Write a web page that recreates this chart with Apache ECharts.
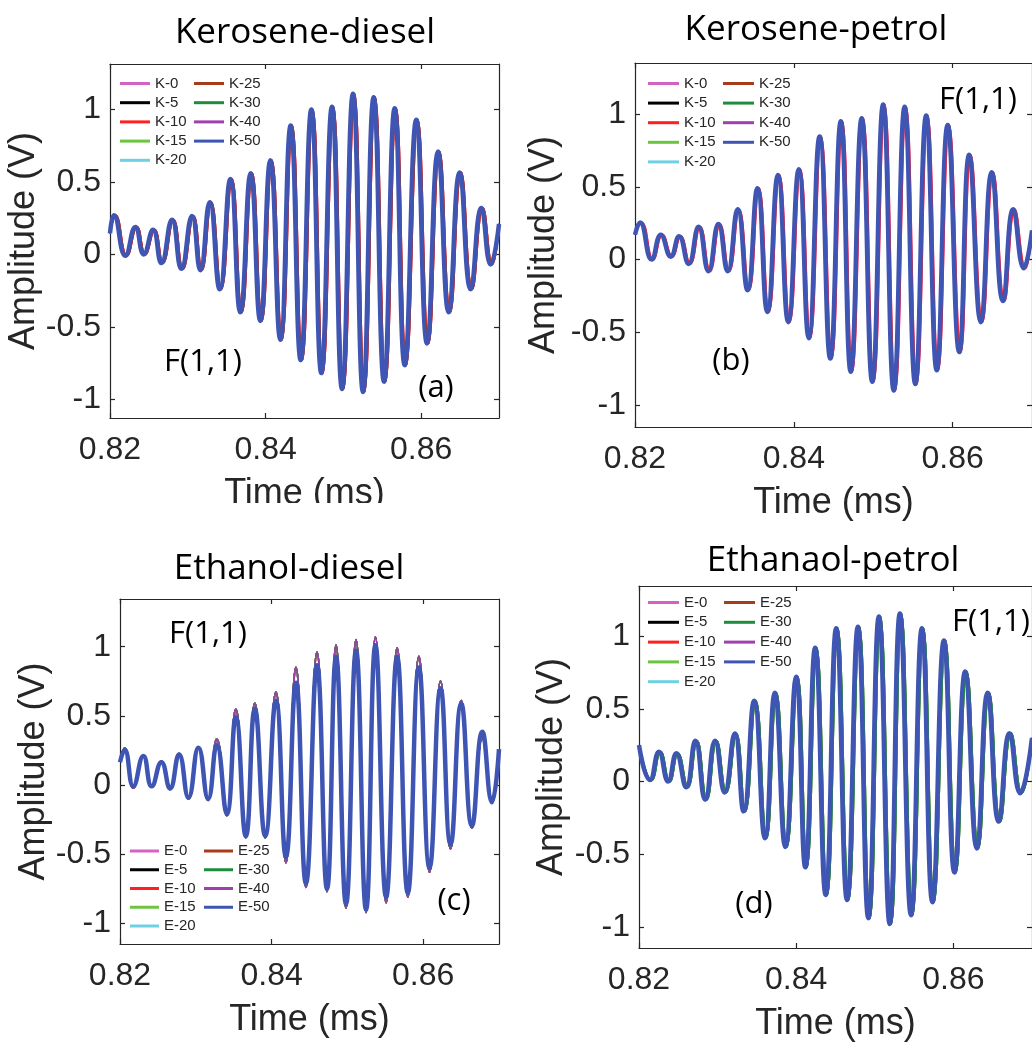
<!DOCTYPE html>
<html><head><meta charset="utf-8">
<script src="https://cdn.jsdelivr.net/npm/echarts@6/dist/echarts.min.js"></script>
<style>html,body{margin:0;padding:0;background:#fff}#c{width:1032px;height:1043px}</style>
</head><body><div id="c"></div>
<script>
// ---- tick labels ----
const xTicks = [0.82, 0.84, 0.86];
const yTicks = [-1, -0.5, 0, 0.5, 1];

// ---- series names / colours ----
const namesK = ['K-0','K-5','K-10','K-15','K-20','K-25','K-30','K-40','K-50'];
const namesE = ['E-0','E-5','E-10','E-15','E-20','E-25','E-30','E-40','E-50'];
const colors = ['#d462c4','#000000','#ff1f1f','#6cc43f','#6fd0e3','#a63c1c','#1d8c3c','#a03fae','#3f55b3'];

// ---- panel (a) Kerosene-diesel: extrema ----
const tA_a = [0.82, 0.82051, 0.82197, 0.82326, 0.82433, 0.82553, 0.82660, 0.82797, 0.82917, 0.83054, 0.83161, 0.83281, 0.83410, 0.83547, 0.83675, 0.83808, 0.83932, 0.84061, 0.84189, 0.84322, 0.84451, 0.84588, 0.84716, 0.84853, 0.84982, 0.85123, 0.85252, 0.85389, 0.85522, 0.85659, 0.85788, 0.85937, 0.86075, 0.86216, 0.86353, 0.86494, 0.86636, 0.86773, 0.86893, 0.87];
const tLag_a = [0.82, 0.82071, 0.82217, 0.82346, 0.82453, 0.82573, 0.82680, 0.82817, 0.82937, 0.83074, 0.83181, 0.83301, 0.83430, 0.83567, 0.83695, 0.83828, 0.83952, 0.84081, 0.84209, 0.84342, 0.84471, 0.84608, 0.84736, 0.84873, 0.85002, 0.85143, 0.85272, 0.85409, 0.85542, 0.85679, 0.85808, 0.85957, 0.86095, 0.86236, 0.86373, 0.86514, 0.86656, 0.86793, 0.86913, 0.87];
const vA_a = [0.145, 0.27, -0.01, 0.19, 0.0, 0.17, -0.06, 0.24, -0.10, 0.265, -0.11, 0.36, -0.24, 0.52, -0.40, 0.56, -0.46, 0.65, -0.59, 0.89, -0.73, 1.00, -0.82, 1.02, -0.93, 1.11, -0.95, 1.085, -0.88, 1.01, -0.765, 0.93, -0.615, 0.71, -0.40, 0.565, -0.24, 0.32, -0.07, 0.21];

// ---- panel (b) Kerosene-petrol ----
const tA_b = [0.82, 0.82063, 0.82209, 0.82325, 0.82450, 0.82555, 0.82675, 0.82800, 0.82925, 0.83050, 0.83167, 0.83292, 0.83417, 0.83542, 0.83667, 0.83800, 0.83930, 0.84063, 0.84188, 0.84325, 0.84459, 0.84592, 0.84717, 0.84855, 0.84988, 0.85125, 0.85259, 0.85396, 0.85530, 0.85667, 0.85800, 0.85938, 0.86084, 0.86209, 0.86355, 0.86492, 0.86634, 0.86763, 0.86896, 0.87];
const tLag_b = [0.82, 0.82083, 0.82229, 0.82345, 0.82470, 0.82575, 0.82695, 0.82820, 0.82945, 0.83070, 0.83187, 0.83312, 0.83437, 0.83562, 0.83687, 0.83820, 0.83950, 0.84083, 0.84208, 0.84345, 0.84479, 0.84612, 0.84737, 0.84875, 0.85008, 0.85145, 0.85279, 0.85416, 0.85550, 0.85687, 0.85820, 0.85958, 0.86104, 0.86229, 0.86375, 0.86512, 0.86654, 0.86783, 0.86916, 0.87];
const vA_b = [0.17, 0.255, 0.0, 0.17, 0.02, 0.16, -0.03, 0.225, -0.08, 0.245, -0.08, 0.345, -0.21, 0.49, -0.36, 0.58, -0.43, 0.62, -0.54, 0.845, -0.68, 0.95, -0.77, 0.97, -0.84, 1.065, -0.90, 1.05, -0.855, 0.99, -0.76, 0.925, -0.635, 0.72, -0.43, 0.60, -0.285, 0.345, -0.06, 0.2];

// ---- panel (c) Ethanol-diesel ----
const tA_c = [0.82, 0.82061, 0.82176, 0.82308, 0.82418, 0.82546, 0.82660, 0.82779, 0.82903, 0.83035, 0.83163, 0.83277, 0.83409, 0.83528, 0.83660, 0.83779, 0.83916, 0.84057, 0.84189, 0.84321, 0.84453, 0.84599, 0.84731, 0.84850, 0.84982, 0.85114, 0.85246, 0.85370, 0.85511, 0.85656, 0.85797, 0.85943, 0.86084, 0.86229, 0.86361, 0.86502, 0.86643, 0.86780, 0.86907, 0.87];
const vA_c = [0.165, 0.255, -0.01, 0.21, -0.01, 0.165, -0.025, 0.22, -0.09, 0.27, -0.10, 0.29, -0.21, 0.49, -0.37, 0.55, -0.37, 0.61, -0.52, 0.74, -0.71, 0.865, -0.75, 0.925, -0.86, 0.97, -0.90, 1.01, -0.81, 0.925, -0.78, 0.85, -0.60, 0.70, -0.43, 0.59, -0.295, 0.385, -0.125, 0.26];
const vB_c = [0.17, 0.265, -0.02, 0.21, -0.015, 0.17, -0.03, 0.225, -0.1, 0.27, -0.11, 0.33, -0.22, 0.545, -0.38, 0.59, -0.38, 0.67, -0.56, 0.85, -0.74, 0.96, -0.77, 1.01, -0.89, 1.05, -0.92, 1.07, -0.85, 0.99, -0.81, 0.93, -0.63, 0.75, -0.46, 0.61, -0.31, 0.34, -0.10, 0.24];

// ---- panel (d) Ethanaol-petrol ----
const tA_d = [0.82, 0.82140, 0.82253, 0.82370, 0.82475, 0.82600, 0.82717, 0.82842, 0.82967, 0.83089, 0.83218, 0.83331, 0.83465, 0.83602, 0.83728, 0.83861, 0.83999, 0.84116, 0.84241, 0.84375, 0.84509, 0.84647, 0.84785, 0.84918, 0.85052, 0.85190, 0.85319, 0.85461, 0.85599, 0.85733, 0.85879, 0.86013, 0.86150, 0.86297, 0.86435, 0.86576, 0.86714, 0.86848, 0.87];
const tLag_d = [0.82, 0.82160, 0.82273, 0.82390, 0.82495, 0.82620, 0.82737, 0.82862, 0.82987, 0.83109, 0.83238, 0.83351, 0.83485, 0.83622, 0.83748, 0.83881, 0.84019, 0.84136, 0.84261, 0.84395, 0.84529, 0.84667, 0.84805, 0.84938, 0.85072, 0.85210, 0.85339, 0.85481, 0.85619, 0.85753, 0.85899, 0.86033, 0.86170, 0.86317, 0.86455, 0.86596, 0.86734, 0.86868, 0.87];
const vA_d = [0.25, 0.01, 0.205, 0.0, 0.195, -0.04, 0.28, -0.125, 0.28, -0.075, 0.33, -0.205, 0.555, -0.39, 0.61, -0.45, 0.72, -0.59, 0.92, -0.78, 1.055, -0.815, 1.065, -0.94, 1.135, -0.98, 1.155, -0.92, 1.055, -0.83, 0.97, -0.625, 0.757, -0.46, 0.61, -0.275, 0.333, -0.08, 0.3];

const pair = (t, v) => t.map((x, i) => [x, v[i]]);

const panels = [
  { names: namesK, title: 'Kerosene-diesel', tag: '(a)',
    grid: {left:110, top:64, width:389, height:354}, ymin:-1.13, ymax:1.315, yGap:66,
    data: i => ([0,2,5].includes(i) ? pair(tLag_a, vA_a) : pair(tA_a, vA_a)),
    leg: {l1:120, l2:194, top:76, gap:4.2, iw:30},
    titlePos:[305,33], fPos:[203,362], tagPos:[436,388] },
  { names: namesK, title: 'Kerosene-petrol', tag: '(b)',
    grid: {left:635, top:63, width:400, height:364}, ymin:-1.15, ymax:1.35, yGap:73,
    data: i => ([0,2].includes(i) ? pair(tLag_b, vA_b) : pair(tA_b, vA_b)),
    leg: {l1:648, l2:723, top:76, gap:4.6, iw:31},
    titlePos:[816,30], fPos:[978,100], tagPos:[731,361] },
  { names: namesE, title: 'Ethanol-diesel', tag: '(c)',
    grid: {left:120, top:599, width:379, height:345}, ymin:-1.15, ymax:1.345, yGap:65,
    data: i => (i === 8 ? pair(tA_c, vA_c) : pair(tA_c, vB_c)),
    leg: {l1:130, l2:204, top:843.5, gap:3.75, iw:29},
    titlePos:[289,569], fPos:[208,634], tagPos:[454,901] },
  { names: namesE, title: 'Ethanaol-petrol', tag: '(d)',
    grid: {left:639, top:586, width:399, height:362}, ymin:-1.145, ymax:1.345, yGap:69,
    data: i => ([1,3,6].includes(i) ? pair(tLag_d, vA_d) : pair(tA_d, vA_d)),
    leg: {l1:648, l2:724, top:595, gap:4.8, iw:31},
    titlePos:[833,561], fPos:[991,622], tagPos:[754,904] }
];

const AX = '#262626';
const tickFont = '"Liberation Sans", Arial, sans-serif';
const textFont = '"Open Sans"';
const grids = [], xAxes = [], yAxes = [], series = [], legends = [], graphics = [];

panels.forEach((p, k) => {
  grids.push(Object.assign({containLabel:false}, p.grid));
  const baseX = {type:'value', gridIndex:k, min:0.82, max:0.87,
    axisLine:{show:true, onZero:false, lineStyle:{color:AX, width:1.2}},
    axisTick:{show:true, inside:true, length:5, customValues:xTicks, lineStyle:{color:AX, width:1.2}},
    splitLine:{show:false}};
  xAxes.push(Object.assign({}, baseX, {position:'bottom',
    axisLabel:{show:true, customValues:xTicks, margin:16, color:AX, fontSize:32, fontFamily:tickFont},
    name:'Time (ms)', nameLocation:'middle', nameGap:58,
    nameTextStyle:{color:AX, fontSize:36, fontFamily:tickFont}}));
  xAxes.push(Object.assign({}, baseX, {position:'top', axisLabel:{show:false}}));
  const baseY = {type:'value', gridIndex:k, min:p.ymin, max:p.ymax,
    axisLine:{show:true, onZero:false, lineStyle:{color:AX, width:1.2}},
    axisTick:{show:true, inside:true, length:5, customValues:yTicks, lineStyle:{color:AX, width:1.2}},
    splitLine:{show:false}};
  yAxes.push(Object.assign({}, baseY, {position:'left',
    axisLabel:{show:true, customValues:yTicks, margin:9, color:AX, fontSize:32, fontFamily:tickFont},
    name:'Amplitude (V)', nameLocation:'middle', nameGap:p.yGap,
    nameTextStyle:{color:AX, fontSize:36, fontFamily:tickFont}}));
  yAxes.push(Object.assign({}, baseY, {position:'right', axisLabel:{show:false}}));

  p.names.forEach((nm, i) => {
    series.push({type:'line', name:nm, xAxisIndex:2*k, yAxisIndex:2*k,
      data:p.data(i), smooth:0.5, symbol:'none', showSymbol:false, clip:true,
      lineStyle:{color:colors[i], width: i === 8 ? 4.5 : 2},
      itemStyle:{color:colors[i]}, emphasis:{disabled:true}, z: 2 + i});
  });

  const legBase = {orient:'vertical', padding:0, itemWidth:p.leg.iw, itemHeight:3,
    icon:'rect', itemGap:p.leg.gap, selectedMode:false, top:p.leg.top,
    textStyle:{fontSize:15, lineHeight:15, color:AX, fontFamily:tickFont}};
  legends.push(Object.assign({}, legBase, {left:p.leg.l1, data:p.names.slice(0,5)}));
  legends.push(Object.assign({}, legBase, {left:p.leg.l2, data:p.names.slice(5,9)}));

  graphics.push({type:'text', x:p.titlePos[0], y:p.titlePos[1], z:50,
    style:{text:p.title, font:'35px ' + textFont, fill:'#000', align:'center', verticalAlign:'middle'}});
  graphics.push({type:'text', x:p.fPos[0], y:p.fPos[1], z:50,
    style:{text:'F(1,1)', font:'31px ' + textFont, fill:'#000', align:'center', verticalAlign:'middle'}});
  graphics.push({type:'text', x:p.tagPos[0], y:p.tagPos[1], z:50,
    style:{text:p.tag, font:'31px ' + textFont, fill:'#000', align:'center', verticalAlign:'middle'}});
});

// crop of panel (a) axis title, as in the source figure
graphics.push({type:'rect', shape:{x:0, y:503, width:520, height:40}, z:100,
  style:{fill:'#ffffff'}});

const chart = echarts.init(document.getElementById('c'), null, {renderer:'canvas'});
chart.setOption({
  backgroundColor:'#ffffff', animation:false,
  grid:grids, xAxis:xAxes, yAxis:yAxes, series:series, legend:legends, graphic:graphics
});
</script></body></html>
